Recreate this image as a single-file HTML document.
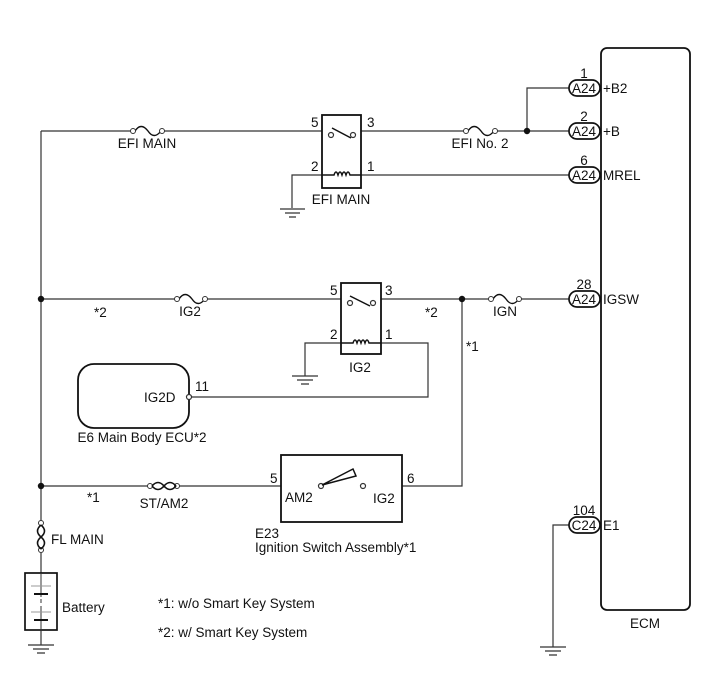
<!DOCTYPE html>
<html><head><style>
html,body{margin:0;padding:0;background:#fff;}
svg{display:block;}
text{font-family:"Liberation Sans",Arial,sans-serif;font-size:13.5px;fill:#111;}
</style></head><body>
<svg width="713" height="681" viewBox="0 0 713 681" xmlns="http://www.w3.org/2000/svg">
<g fill="none" stroke="#333" stroke-width="1.2">
<path d="M41 131 V523"/>
<path d="M41 131 H133 M162 131 H322"/>
<path d="M361 131 H466 M495 131 H569"/>
<path d="M527 131 V88 H569"/>
<path d="M361 175 H569"/>
<path d="M322 175 H292 V208"/>
<path d="M41 299 H177 M205 299 H341"/>
<path d="M381 299 H491 M519 299 H569"/>
<path d="M462 299 V486 H402"/>
<path d="M341 343 H305 V376"/>
<path d="M381 343 H428 V397 H189"/>
<path d="M41 486 H150 M177 486 H281"/>
<path d="M569 525 H553 V647"/>
<path d="M41 553 V645"/>
</g>
<g fill="none" stroke="#111" stroke-width="1.4">
<path d="M135 131 q6 -9 13 0 q6 9 13 0"/>
<path d="M468 131 q6 -9 13 0 q6 9 13 0"/>
<path d="M179 299 q6 -9 13 0 q6 9 13 0"/>
<path d="M493 299 q6 -9 13 0 q6 9 13 0"/>
</g>
<g stroke="#333" stroke-width="1" fill="none">
<circle cx="133" cy="131" r="2.5" fill="#fff"/><circle cx="162" cy="131" r="2.5" fill="#fff"/>
<circle cx="466" cy="131" r="2.5" fill="#fff"/><circle cx="495" cy="131" r="2.5" fill="#fff"/>
<circle cx="177" cy="299" r="2.5" fill="#fff"/><circle cx="205" cy="299" r="2.5" fill="#fff"/>
<circle cx="491" cy="299" r="2.5" fill="#fff"/><circle cx="519" cy="299" r="2.5" fill="#fff"/>
<circle cx="150" cy="486" r="2.5" fill="#fff"/><circle cx="177" cy="486" r="2.5" fill="#fff"/>
<path d="M152 486 q6 -7 12 0 q6 7 12 0 M152 486 q6 7 12 0 q6 -7 12 0" stroke-width="1.6" stroke="#111"/>
<circle cx="41" cy="523" r="2.5" fill="#fff"/><circle cx="41" cy="550" r="2.5" fill="#fff"/>
<path d="M41 525 q-7 6 0 12 q7 6 0 12 M41 525 q7 6 0 12 q-7 6 0 12" stroke-width="1.6" stroke="#111"/>
</g>
<g fill="#111"><circle cx="527" cy="131" r="3.2"/><circle cx="41" cy="299" r="3.2"/><circle cx="462" cy="299" r="3.2"/><circle cx="41" cy="486" r="3.2"/></g>
<g stroke="#111" stroke-width="1.8" fill="none">
<rect x="322" y="115" width="39" height="73"/>
<rect x="341" y="283" width="40" height="71"/>
<rect x="281" y="455" width="121" height="67"/>
<rect x="78" y="364" width="111" height="64" rx="16"/>
<rect x="601" y="48" width="89" height="562" rx="6"/>
</g>
<g stroke="#333" stroke-width="1.2" fill="#fff">
<circle cx="331" cy="135" r="2.5"/><circle cx="353" cy="135" r="2.5"/>
<circle cx="350" cy="303" r="2.5"/><circle cx="373" cy="303" r="2.5"/>
<circle cx="321" cy="486" r="2.5"/><circle cx="363" cy="486" r="2.5"/>
<circle cx="189" cy="397" r="2.5"/>
</g>
<g stroke="#111" stroke-width="1.5" fill="none">
<path d="M332 128 L351 138"/><path d="M350 296 L370 306"/>
<path d="M322 485 L353 469 L356 476 Z"/>
<path d="M322 175 H334 q2 -6 4 0 q2 -6 4 0 q2 -6 4 0 q2 -6 4 0 H361"/>
<path d="M341 343 H353 q2 -6 4 0 q2 -6 4 0 q2 -6 4 0 q2 -6 4 0 H381"/>
</g>
<g stroke="#333" stroke-width="1.3">
<path d="M280 209 H305 M285 213 H300 M289 217 H296"/>
<path d="M292 376 H318 M297 380 H313 M301 384 H309"/>
<path d="M540 647 H566 M545 651 H561 M549 655 H557"/>
<path d="M28 645 H54 M33 649 H49 M37 653 H45"/>
</g>
<g stroke="#333" fill="none">
<rect x="25" y="573" width="32" height="57" stroke="#111" stroke-width="1.7" fill="#fff"/>
<path d="M41 573 V645"/>
<path d="M31 586 H51" stroke="#999"/><path d="M34 594 H48" stroke="#111" stroke-width="2"/>
<path d="M31 612 H51" stroke="#999"/><path d="M34 620 H48" stroke="#111" stroke-width="2"/>
</g>
<rect x="38" y="597" width="6" height="12" fill="#fff"/>
<path d="M41 599 V603 M41 606 V609" stroke="#333"/>
<g stroke="#111" stroke-width="1.7" fill="#fff">
<rect x="569" y="80" width="31" height="16" rx="8"/>
<rect x="569" y="123" width="31" height="16" rx="8"/>
<rect x="569" y="167" width="31" height="16" rx="8"/>
<rect x="569" y="291" width="31" height="16" rx="8"/>
<rect x="569" y="517" width="31" height="16" rx="8"/>
</g>
<g text-anchor="middle">
<text x="584" y="93">A24</text><text x="584" y="136">A24</text><text x="584" y="180">A24</text><text x="584" y="304">A24</text><text x="584" y="530">C24</text>
<text x="584" y="78">1</text><text x="584" y="121">2</text><text x="584" y="165">6</text><text x="584" y="289">28</text><text x="584" y="515">104</text>
<text x="147" y="148">EFI MAIN</text><text x="480" y="148">EFI No. 2</text><text x="341" y="204">EFI MAIN</text>
<text x="190" y="316">IG2</text><text x="505" y="316">IGN</text><text x="360" y="372">IG2</text>
<text x="164" y="508">ST/AM2</text><text x="645" y="628">ECM</text>
<text x="142" y="442">E6  Main Body ECU*2</text>
</g>
<text x="603" y="93">+B2</text><text x="603" y="136">+B</text><text x="603" y="180">MREL</text><text x="603" y="304">IGSW</text><text x="603" y="530">E1</text>
<text x="311" y="127">5</text><text x="367" y="127">3</text><text x="311" y="171">2</text><text x="367" y="171">1</text>
<text x="330" y="295">5</text><text x="385" y="295">3</text><text x="330" y="339">2</text><text x="385" y="339">1</text>
<text x="94" y="317">*2</text><text x="425" y="317">*2</text><text x="466" y="351">*1</text>
<text x="144" y="402">IG2D</text><text x="195" y="391">11</text>
<text x="87" y="502">*1</text>
<text x="270" y="483">5</text><text x="407" y="483">6</text>
<text x="285" y="502">AM2</text><text x="373" y="503">IG2</text>
<text x="255" y="538">E23</text><text x="255" y="552">Ignition Switch Assembly*1</text>
<text x="51" y="544">FL MAIN</text><text x="62" y="612">Battery</text>
<text x="158" y="608">*1: w/o Smart Key System</text>
<text x="158" y="637">*2: w/ Smart Key System</text>
</svg>
</body></html>
